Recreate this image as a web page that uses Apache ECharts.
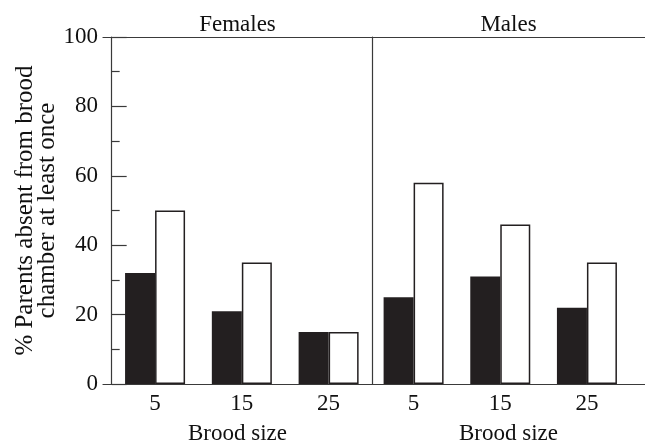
<!DOCTYPE html>
<html>
<head>
<meta charset="utf-8">
<script src="https://cdn.jsdelivr.net/npm/echarts@6/dist/echarts.min.js"></script>
<style>
html,body{margin:0;padding:0;background:#fff;}
#chart{width:645px;height:443px;}
</style>
</head>
<body>
<div id="chart"></div>
<script>
// Data
const broodSizes = [5, 15, 25];
const panels = ['Females', 'Males'];
const femalesFilled = [32, 21, 15];
const femalesOpen = [50, 35, 15];
const malesFilled = [25, 31, 22];
const malesOpen = [58, 46, 35];
const yTicks = [0, 20, 40, 60, 80, 100];
const yMinorTicks = [10, 30, 50, 70, 90];

const FONT = 'Liberation Serif';
const INK = '#231f20';
const AX = '#3a3a3a';
const fs = 23;

function pairs(vals) { return broodSizes.map((b, i) => [b, vals[i]]); }

const chart = echarts.init(document.getElementById('chart'));

const baseX = (gi, min, max) => ({
  type: 'value', gridIndex: gi, min: min, max: max, position: 'bottom',
  axisLine: { show: true, onZero: false, lineStyle: { color: AX, width: 1.2 } },
  axisTick: { show: false }, splitLine: { show: false },
  axisLabel: { customValues: broodSizes, fontFamily: FONT, fontSize: fs, color: '#111', margin: 8 },
  name: 'Brood size', nameLocation: 'middle', nameGap: 38,
  nameTextStyle: { fontFamily: FONT, fontSize: fs, color: '#111' }
});
const topX = (gi, min, max, title) => ({
  type: 'value', gridIndex: gi, min: min, max: max, position: 'top',
  axisLine: { show: true, onZero: false, lineStyle: { color: AX, width: 1.2 } },
  axisTick: { show: false }, splitLine: { show: false }, axisLabel: { show: false },
  name: title, nameLocation: 'middle', nameGap: 1,
  nameTextStyle: { fontFamily: FONT, fontSize: fs, color: '#111' }
});

const option = {
  animation: false,
  backgroundColor: '#fff',
  grid: [
    { left: 103, top: 37, width: 269, height: 347, outerBoundsMode: 'none', containLabel: false },
    { left: 372, top: 37, width: 273, height: 347, outerBoundsMode: 'none', containLabel: false }
  ],
  xAxis: [
    baseX(0, -1, 30), baseX(1, 0.2, 31.7),
    topX(0, -1, 30, panels[0]), topX(1, 0.2, 31.7, panels[1])
  ],
  yAxis: [
    {
      type: 'value', gridIndex: 0, min: 0, max: 100, interval: 20,
      axisLine: { show: true, lineStyle: { color: AX, width: 1.2 } },
      axisTick: { show: true, inside: true, length: 15, customValues: yTicks, lineStyle: { color: AX, width: 1.2 } },
      splitLine: { show: false },
      axisLabel: { customValues: yTicks, fontFamily: FONT, fontSize: fs, color: '#111', margin: 5 },
      name: '% Parents absent from brood\nchamber at least once',
      nameLocation: 'middle', nameRotate: 90, nameGap: 27,
      nameTextStyle: { fontFamily: FONT, fontSize: 25, color: '#111', lineHeight: 22, align: 'center' }
    },
    {
      type: 'value', gridIndex: 1, min: 0, max: 100, interval: 20,
      axisLine: { show: true, lineStyle: { color: AX, width: 1.2 } },
      axisTick: { show: false }, splitLine: { show: false }, axisLabel: { show: false }
    },
    {
      // overlay axis carrying the short intermediate ticks
      type: 'value', gridIndex: 0, min: 0, max: 100, interval: 10, position: 'left',
      axisLine: { show: false },
      axisTick: { show: true, inside: true, length: 8, customValues: yMinorTicks, lineStyle: { color: AX, width: 1.2 } },
      splitLine: { show: false }, axisLabel: { show: false }
    }
  ],
  series: [
    { type: 'bar', xAxisIndex: 0, yAxisIndex: 0, data: pairs(femalesFilled), barWidth: 30, barGap: '0%',
      itemStyle: { color: INK } },
    { type: 'bar', xAxisIndex: 0, yAxisIndex: 0, data: pairs(femalesOpen), barWidth: 30, barGap: '0%',
      itemStyle: { color: '#fff', borderColor: INK, borderWidth: 1.5 } },
    { type: 'bar', xAxisIndex: 1, yAxisIndex: 1, data: pairs(malesFilled), barWidth: 30, barGap: '0%',
      itemStyle: { color: INK } },
    { type: 'bar', xAxisIndex: 1, yAxisIndex: 1, data: pairs(malesOpen), barWidth: 30, barGap: '0%',
      itemStyle: { color: '#fff', borderColor: INK, borderWidth: 1.5 } }
  ]
};
chart.setOption(option);
</script>
</body>
</html>
